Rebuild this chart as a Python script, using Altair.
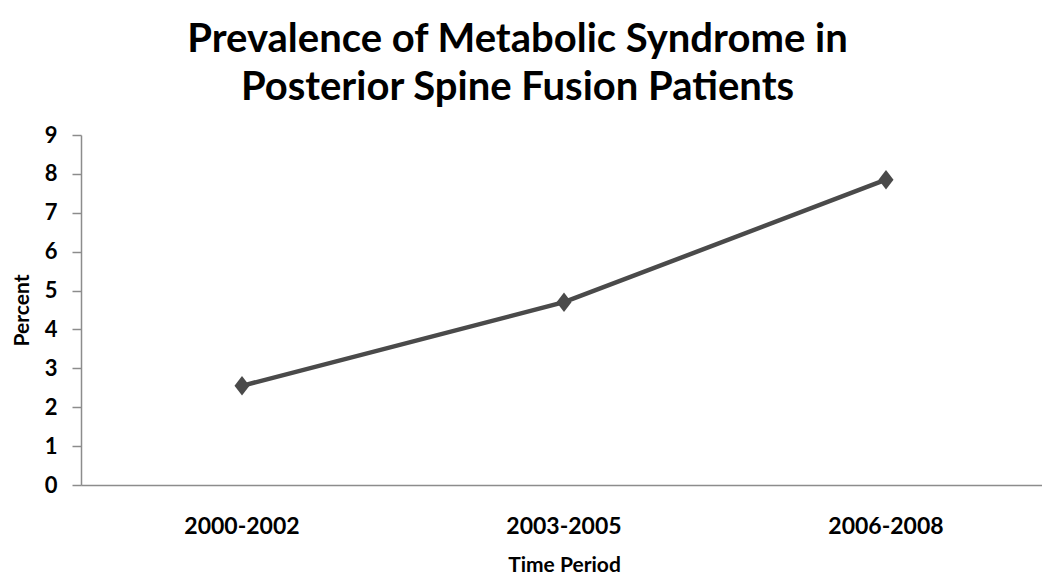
import altair as alt
import pandas as pd

periods = ["2000-2002", "2003-2005", "2006-2008"]
percent = [2.55, 4.7, 7.85]

df = pd.DataFrame({"period": periods, "percent": percent})

FONT = "Lato"
LINE = "#4a4a4a"
AXIS = "#8c8c8c"

diamond = "M0,-1.3L1,0L0,1.3L-1,0Z"

x_enc = alt.X(
    "period:N",
    sort=periods,
    bandPosition=0.5,
    scale=alt.Scale(type="band", range=[0, 966], paddingInner=0, paddingOuter=0),
    axis=alt.Axis(
        title="Time Period",
        labelAngle=0,
        ticks=False,
        labelPadding=30,
        labelFontSize=23,
        labelFont=FONT,
        labelFontWeight="bold",
        labelColor="#000000",
        titleFont=FONT,
        titleFontSize=21,
        titleFontWeight="bold",
        titleColor="#000000",
        titlePadding=16,
        domainColor=AXIS,
        domainWidth=1.5,
        grid=False,
    ),
)
y_enc = alt.Y(
    "percent:Q",
    scale=alt.Scale(domain=[0, 9], nice=False),
    axis=alt.Axis(
        title="Percent",
        values=list(range(0, 10)),
        tickSize=9,
        tickColor=AXIS,
        tickWidth=1.5,
        domainColor=AXIS,
        domainWidth=1.5,
        labelPadding=15,
        labelFontSize=22,
        labelFont=FONT,
        labelFontWeight="bold",
        labelColor="#000000",
        titleFont=FONT,
        titleFontSize=21,
        titleFontWeight="bold",
        titleColor="#000000",
        titlePadding=12,
        grid=False,
    ),
)

base = alt.Chart(df)
line = base.mark_line(color=LINE, strokeWidth=4.5).encode(x=x_enc, y=y_enc)
pts = base.mark_point(
    shape=diamond, size=225, filled=True, color=LINE, opacity=1
).encode(x=x_enc, y=y_enc)

chart = (
    alt.layer(line, pts)
    .properties(
        width=961,
        height=350,
        title=alt.TitleParams(
            text=["Prevalence of Metabolic Syndrome in", "Posterior Spine Fusion Patients"],
            font=FONT,
            fontSize=40,
            fontWeight="bold",
            color="#000000",
            anchor="middle",
            frame="group",
            lineHeight=48,
            offset=16,
            dx=-44,
        ),
        autosize=alt.AutoSizeParams(type="none"),
        padding={"left": 73, "top": 127, "right": 0, "bottom": 94},
    )
    .configure_view(stroke=None)
)

chart.save("out.html", embed_options={"renderer": "svg", "actions": False})
